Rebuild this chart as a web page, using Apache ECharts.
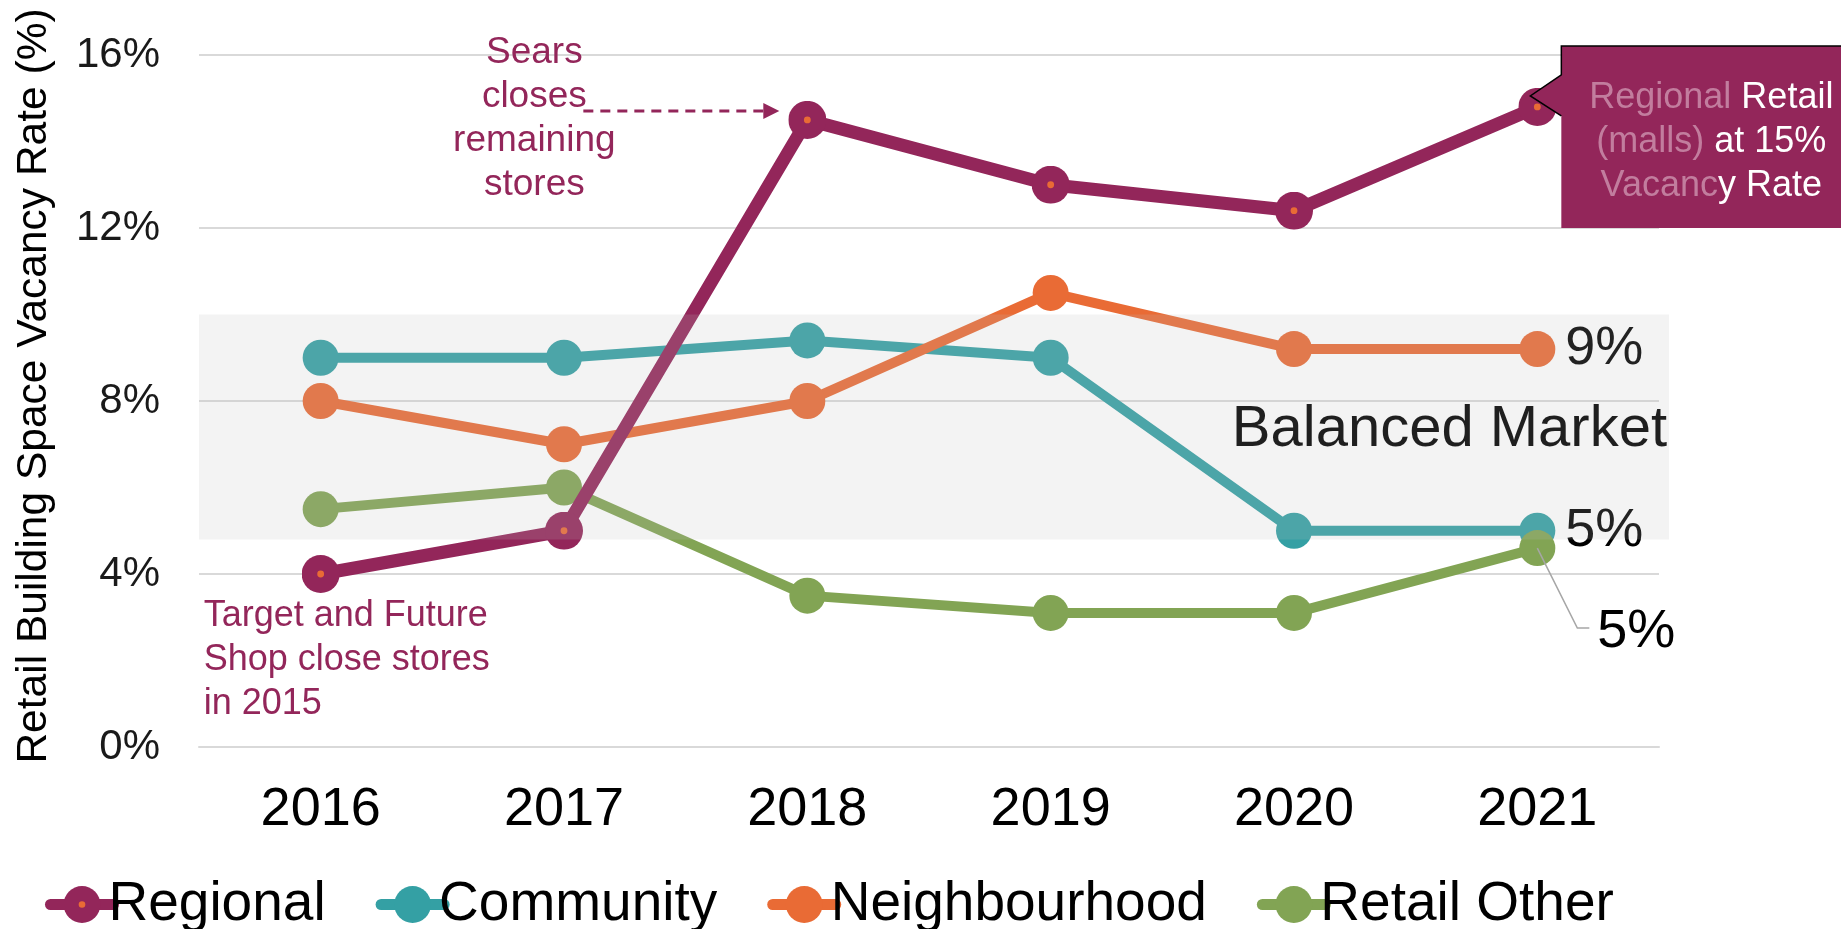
<!DOCTYPE html>
<html>
<head>
<meta charset="utf-8">
<script src="https://cdn.jsdelivr.net/npm/echarts@6/dist/echarts.min.js"></script>
<style>
  html, body { margin: 0; padding: 0; background: #fff; }
  #chart { width: 1841px; height: 929px; }
</style>
</head>
<body>
<div id="chart"></div>
<script>
// Retail building space vacancy rate by retail category (%)
const years = ['2016', '2017', '2018', '2019', '2020', '2021'];
const regional = [4.0, 5.0, 14.5, 13.0, 12.4, 14.8];
const community = [9.0, 9.0, 9.4, 9.0, 5.0, 5.0];
const neighbourhood = [8.0, 7.0, 8.0, 10.5, 9.2, 9.2];
const retailOther = [5.5, 6.0, 3.5, 3.1, 3.1, 4.6];
const balancedBand = [4.8, 10.0];   // "Balanced Market" range
const yTicks = [0, 4, 8, 12, 16];

const FONT = 'Liberation Sans, Arial, sans-serif';
const C_REG = '#93265a';
const C_COM = '#34a0a4';
const C_NEI = '#e96b35';
const C_OTH = '#82a454';

// Regional marker: crimson disc with a small orange centre dot
const regSvg = '<svg xmlns="http://www.w3.org/2000/svg" width="40" height="40" viewBox="0 0 40 40">' +
  '<circle cx="20" cy="20" r="20" fill="' + C_REG + '"/>' +
  '<circle cx="20" cy="20" r="3.6" fill="' + C_NEI + '"/></svg>';
const regSymbol = 'image://data:image/svg+xml;charset=utf-8,' + encodeURIComponent(regSvg);

const lastLabel = (p) => p.dataIndex === years.length - 1 ? Math.round(p.value) + '%' : '';

const chart = echarts.init(document.getElementById('chart'), null, { renderer: 'canvas' });

const option = {
  animation: false,
  backgroundColor: '#fff',
  textStyle: { fontFamily: FONT },
  grid: { left: 199, right: 182, top: 55, bottom: 182 },
  legend: {
    data: ['Regional', 'Community', 'Neighbourhood', 'Retail Other'],
    left: 40, top: 872,
    itemWidth: 63, itemHeight: 46, itemGap: 50,
    lineStyle: { width: 11, cap: 'round' },
    textStyle: { fontSize: 55, color: '#000', fontFamily: FONT, padding: [0, 0, 0, -10] }
  },
  xAxis: {
    type: 'category',
    data: years,
    boundaryGap: true,
    axisLine: { show: true, lineStyle: { color: '#d9d9d9', width: 2 } },
    axisTick: { show: false },
    axisLabel: { fontSize: 54, color: '#000', margin: 36, fontFamily: FONT }
  },
  yAxis: {
    type: 'value',
    min: yTicks[0], max: yTicks[yTicks.length - 1], interval: yTicks[1] - yTicks[0],
    axisLine: { show: false },
    axisTick: { show: false },
    splitLine: { lineStyle: { color: '#d9d9d9', width: 2 } },
    axisLabel: { fontSize: 42, color: '#1a1a1a', margin: 39, formatter: '{value}%', fontFamily: FONT }
  },
  series: [
    {
      name: 'Community', type: 'line', data: community, z: 2,
      color: C_COM,
      lineStyle: { width: 10, color: C_COM },
      symbol: 'circle', symbolSize: 36,
      itemStyle: { color: C_COM },
      label: { show: true, position: 'right', distance: 10, formatter: lastLabel,
               fontSize: 54, color: '#000', fontFamily: FONT }
    },
    {
      name: 'Neighbourhood', type: 'line', data: neighbourhood, z: 2,
      color: C_NEI,
      lineStyle: { width: 10, color: C_NEI },
      symbol: 'circle', symbolSize: 36,
      itemStyle: { color: C_NEI },
      label: { show: true, position: 'right', distance: 10, formatter: lastLabel,
               fontSize: 54, color: '#000', fontFamily: FONT }
    },
    {
      name: 'Retail Other', type: 'line', data: retailOther, z: 3,
      color: C_OTH,
      lineStyle: { width: 10, color: C_OTH },
      symbol: 'circle', symbolSize: 36,
      itemStyle: { color: C_OTH }
    },
    {
      name: 'Regional', type: 'line', data: regional, z: 4,
      color: C_REG,
      lineStyle: { width: 13, color: C_REG },
      symbol: regSymbol, symbolSize: 38,
      itemStyle: { color: C_REG }
    },
    {
      // translucent "Balanced Market" band laid over the lines
      name: 'Balanced Market', type: 'custom', z: 6, silent: true, clip: false,
      data: [[balancedBand[0], balancedBand[1]]],
      renderItem: function (params, api) {
        const cs = params.coordSys;
        const yTop = api.coord([0, api.value(1)])[1];
        const yBot = api.coord([0, api.value(0)])[1];
        return {
          type: 'rect',
          shape: { x: cs.x, y: yTop, width: cs.width + 10, height: yBot - yTop },
          style: { fill: 'rgba(190,190,190,0.18)' }
        };
      }
    }
  ]
};

chart.setOption(option);

// Annotations anchored to data points
const px = (i, v) => chart.convertToPixel({ gridIndex: 0 }, [years[i], v]);
const last = years.length - 1;
const pSears = px(2, regional[2]);
const pTarget = px(0, regional[0]);
const pReg21 = px(last, regional[last]);
const pOth21 = px(last, retailOther[last]);
const gridRight = px(last, 0)[0] + 121.7;
const bandMid = px(0, (balancedBand[0] + balancedBand[1]) / 2)[1];
const axisMid = (px(0, yTicks[0])[1] + px(0, yTicks[yTicks.length - 1])[1]) / 2;

const cx = pReg21[0], cy = pReg21[1];
const calloutPts = [
  [cx + 24, cy - 61], [1850, cy - 61], [1850, cy + 121], [cx + 24, cy + 121],
  [cx + 24, cy + 9], [cx - 7, cy - 11], [cx + 24, cy - 32]
];

chart.setOption({
  graphic: [
    {
      type: 'text', z: 10,
      x: 34, y: axisMid - 15, rotation: Math.PI / 2,
      style: { text: 'Retail Building Space Vacancy Rate (%)', fontSize: 42.5, fontFamily: FONT,
               fill: '#000', align: 'center', verticalAlign: 'middle' }
    },
    {
      type: 'text', z: 10,
      x: gridRight + 8, y: bandMid + 3,
      style: { text: 'Balanced Market', fontSize: 58, fontFamily: FONT, fill: '#1f1f1f',
               align: 'right', verticalAlign: 'middle' }
    },
    {
      type: 'text', z: 10,
      x: pSears[0] - 273, y: pSears[1] - 1,
      style: { text: 'Sears\ncloses\nremaining\nstores', fontSize: 37, lineHeight: 44,
               fontFamily: FONT, fill: C_REG, align: 'center', verticalAlign: 'middle' }
    },
    {
      type: 'line', z: 10,
      shape: { x1: pSears[0] - 224, y1: pSears[1] - 9, x2: pSears[0] - 42, y2: pSears[1] - 9 },
      style: { stroke: C_REG, lineWidth: 3, lineDash: [10, 7] }
    },
    {
      type: 'polygon', z: 10,
      shape: { points: [[pSears[0] - 44, pSears[1] - 17], [pSears[0] - 28, pSears[1] - 9], [pSears[0] - 44, pSears[1] - 1]] },
      style: { fill: C_REG }
    },
    {
      type: 'text', z: 10,
      x: pTarget[0] - 117, y: pTarget[1] + 86,
      style: { text: 'Target and Future\nShop close stores\nin 2015', fontSize: 36, lineHeight: 44,
               fontFamily: FONT, fill: C_REG, align: 'left', verticalAlign: 'middle' }
    },
    {
      type: 'polyline', z: 10,
      shape: { points: [[pOth21[0], pOth21[1]], [pOth21[0] + 40, pOth21[1] + 80], [pOth21[0] + 52, pOth21[1] + 80]] },
      style: { stroke: '#a6a6a6', lineWidth: 1.5, fill: null }
    },
    {
      type: 'text', z: 10,
      x: pOth21[0] + 60, y: pOth21[1] + 84,
      style: { text: Math.round(retailOther[last]) + '%', fontSize: 54, fontFamily: FONT,
               fill: '#000', align: 'left', verticalAlign: 'middle' }
    },
    {
      type: 'polygon', z: 11,
      shape: { points: calloutPts },
      style: { fill: C_REG }
    },
    {
      type: 'polyline', z: 12,
      shape: { points: [[cx + 24, cy + 9], [cx - 7, cy - 11], [cx + 24, cy - 32], [cx + 24, cy - 61], [1850, cy - 61]] },
      style: { stroke: '#000', lineWidth: 1.5, fill: null }
    },
    {
      type: 'text', z: 12,
      x: cx + 174, y: cy + 35,
      style: {
        text: '{f|Regional} {w|Retail}\n{f|(malls)} {w|at ' + Math.round(regional[last]) + '%}\n{f|Vacanc}{w|y Rate}',
        fontSize: 36, lineHeight: 44, fontFamily: FONT, fill: '#fff',
        align: 'center', verticalAlign: 'middle',
        rich: {
          f: { fontSize: 36, lineHeight: 44, fontFamily: FONT, fill: '#c27d9e' },
          w: { fontSize: 36, lineHeight: 44, fontFamily: FONT, fill: '#ffffff' }
        }
      }
    }
  ]
});
</script>
</body>
</html>
